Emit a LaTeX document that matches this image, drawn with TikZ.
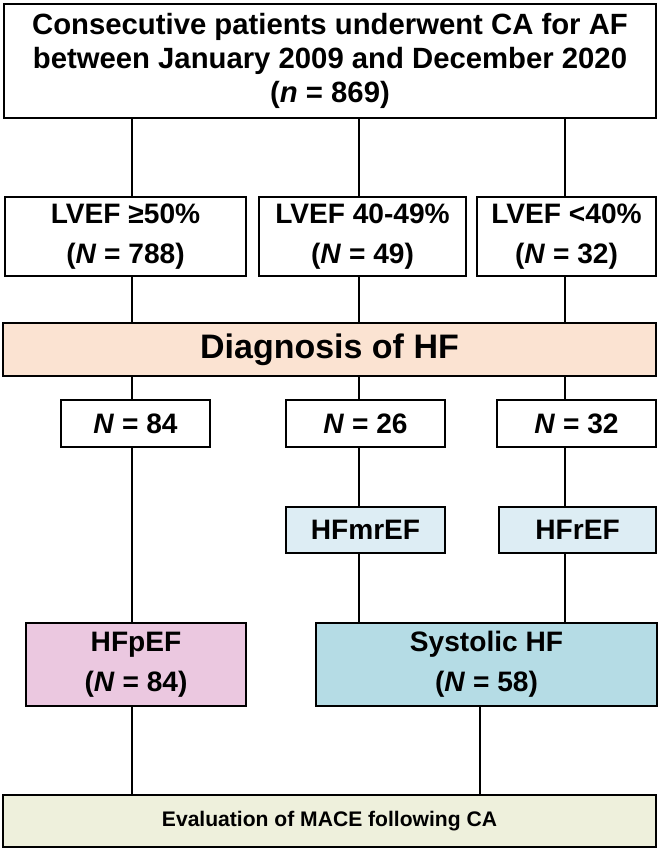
\documentclass[tikz,border=0pt]{standalone}
\usepackage{fontspec}
\setmainfont{Liberation Sans}
\usetikzlibrary{positioning}
\definecolor{peach}{HTML}{FBE3D2}
\definecolor{pinkbox}{HTML}{EBC8E0}
\definecolor{paleblue}{HTML}{DDEDF4}
\definecolor{sysblue}{HTML}{B5DCE5}
\definecolor{olivebox}{HTML}{EEF0DC}
\tikzset{
  box/.style={draw, line width=1.8pt, fill=white, align=center, inner sep=0pt,
    font=\bfseries\fontsize{24}{34}\selectfont},
  link/.style={line width=1.8pt}
}
\begin{document}
\begin{tikzpicture}[x=0.03cm, y=-0.03cm]
        \useasboundingbox (0,0) rectangle (661,852);
        % Boxes
        \node[box, minimum width=652*0.03cm, minimum height=114*0.03cm,
              font=\bfseries\fontsize{25}{29}\selectfont] (top) at (330,61)
            {Consecutive patients underwent CA for AF\\between January 2009 and December 2020\\(\textit{n} = 869)};
        \node[box, minimum width=241*0.03cm, minimum height=79*0.03cm] (b1) at (125.5,236.5)
            {LVEF ≥50\%\\(\textit{N} = 788)};
        \node[box, minimum width=207*0.03cm, minimum height=79*0.03cm] (b2) at (362.5,236.5)
            {LVEF 40-49\%\\(\textit{N} = 49)};
        \node[box, minimum width=179*0.03cm, minimum height=79*0.03cm] (b3) at (566.5,236.5)
            {LVEF <40\%\\(\textit{N} = 32)};
        \node[box, fill=peach, minimum width=653*0.03cm, minimum height=53*0.03cm,
              font=\bfseries\fontsize{29}{33}\selectfont] (diag) at (329.5,349.5) {Diagnosis of HF};
        \node[box, minimum width=149*0.03cm, minimum height=47*0.03cm] (n1) at (135.5,423.5) {\textit{N} = 84};
        \node[box, minimum width=159*0.03cm, minimum height=47*0.03cm] (n2) at (365.5,423.5) {\textit{N} = 26};
        \node[box, minimum width=159*0.03cm, minimum height=47*0.03cm] (n3) at (576.5,423.5) {\textit{N} = 32};
        \node[box, fill=paleblue, minimum width=159*0.03cm, minimum height=46*0.03cm] (mr) at (365.5,530) {HFmrEF};
        \node[box, fill=paleblue, minimum width=157*0.03cm, minimum height=46*0.03cm] (r) at (577.5,530) {HFrEF};
        \node[box, fill=pinkbox, minimum width=220*0.03cm, minimum height=83*0.03cm] (pef) at (136,664.5)
            {HFpEF\\(\textit{N} = 84)};
        \node[box, fill=sysblue, minimum width=341*0.03cm, minimum height=83*0.03cm] (sys) at (486.5,664.5)
            {Systolic HF\\(\textit{N} = 58)};
        \node[box, fill=olivebox, minimum width=653*0.03cm, minimum height=52*0.03cm,
              font=\bfseries\fontsize{18}{20}\selectfont] (eval) at (329.5,821) {Evaluation of MACE following CA};

        % Connect the boxes
        \coordinate (c1) at (132,0);
        \coordinate (c2) at (359,0);
        \coordinate (c3) at (565,0);
        \coordinate (c4) at (480,0);
        \draw[link] (top.south -| c1) -- (b1.north -| c1)
                    (b1.south -| c1) -- (diag.north -| c1)
                    (diag.south -| c1) -- (n1.north -| c1)
                    (n1.south -| c1) -- (pef.north -| c1)
                    (pef.south -| c1) -- (eval.north -| c1);
        \draw[link] (top.south -| c2) -- (b2.north -| c2)
                    (b2.south -| c2) -- (diag.north -| c2)
                    (diag.south -| c2) -- (n2.north -| c2)
                    (n2.south -| c2) -- (mr.north -| c2)
                    (mr.south -| c2) -- (sys.north -| c2);
        \draw[link] (top.south -| c3) -- (b3.north -| c3)
                    (b3.south -| c3) -- (diag.north -| c3)
                    (diag.south -| c3) -- (n3.north -| c3)
                    (n3.south -| c3) -- (r.north -| c3)
                    (r.south -| c3) -- (sys.north -| c3);
        \draw[link] (sys.south -| c4) -- (eval.north -| c4);
\end{tikzpicture}
\end{document}
